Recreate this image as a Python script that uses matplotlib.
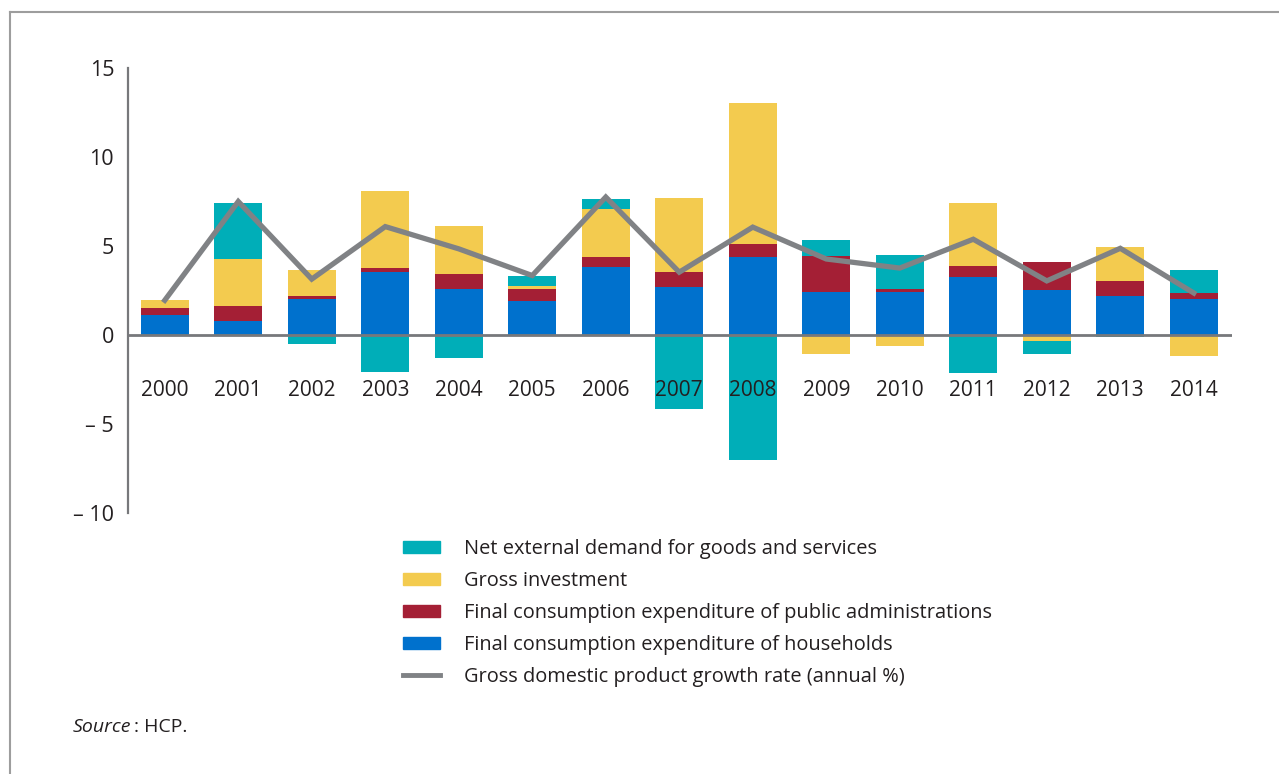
import numpy as np
import matplotlib
matplotlib.use("Agg")
import matplotlib.pyplot as plt
from matplotlib.lines import Line2D
from matplotlib.patches import Patch

plt.rcParams['font.family'] = ['Open Sans', 'DejaVu Sans']

# values (percentage points)
years = ['2000', '2001', '2002', '2003', '2004', '2005', '2006', '2007',
         '2008', '2009', '2010', '2011', '2012', '2013', '2014']
households = [1.14, 0.76, 2.02, 3.53, 2.59, 1.91, 3.80, 2.67, 4.40, 2.40, 2.44, 3.25, 2.50, 2.21, 2.02]
public_admin = [0.37, 0.85, 0.19, 0.23, 0.81, 0.68, 0.60, 0.86, 0.73, 2.05, 0.15, 0.64, 1.60, 0.85, 0.34]
investment = [0.44, 2.64, 1.43, 4.33, 2.73, 0.19, 2.67, 4.18, 7.89, -1.05, -0.59, 3.52, -0.35, 1.87, -1.16]
net_external = [0.0, 3.16, -0.50, -2.08, -1.29, 0.56, 0.59, -4.17, -7.02, 0.89, 1.88, -2.12, -0.70, -0.12, 1.27]
gdp_growth = [1.95, 7.50, 3.14, 6.09, 4.84, 3.34, 7.75, 3.53, 6.06, 4.27, 3.76, 5.38, 3.04, 4.87, 2.36]

labels = ['Final consumption expenditure of households',
          'Final consumption expenditure of public administrations',
          'Gross investment',
          'Net external demand for goods and services']
colors = ['#0071cd', '#a41f35', '#f3cb4f', '#00aeb8']
line_label = 'Gross domestic product growth rate (annual %)'
line_color = '#808285'
text_color = '#231f20'

fig = plt.figure(figsize=(12.79, 7.74), dpi=100)
ax = fig.add_axes([128/1279, 1-513/774, (1232-128)/1279, (513-68)/774])

x = np.arange(len(years))
pos_bottom = np.zeros(len(years))
neg_bottom = np.zeros(len(years))
for series, c in zip([households, public_admin, investment, net_external], colors):
    v = np.array(series)
    bottom = np.where(v >= 0, pos_bottom, neg_bottom)
    ax.bar(x, v, width=0.65, bottom=bottom, color=c, linewidth=0, zorder=1)
    pos_bottom += np.where(v > 0, v, 0)
    neg_bottom += np.where(v < 0, v, 0)

ax.axhline(0, color='#77787b', lw=2, zorder=2)
ax.plot(x, gdp_growth, color=line_color, lw=3.8, zorder=3, solid_joinstyle='miter')

# year labels sit inside the plot, below the zero line
for i, yr in enumerate(years):
    ax.text(i, -3.12, yr, ha='center', va='center', fontsize=15, color=text_color, zorder=4)

ax.set_xlim(-0.5, 14.52)
ax.set_ylim(-10, 15)
ax.set_xticks([])
ax.set_yticks([15, 10, 5, 0, -5, -10])
ax.set_yticklabels(['15', '10', '5', '0', '\u2013 5', '\u2013 10'])
ax.tick_params(axis='y', length=0, pad=10, labelsize=15.5, labelcolor=text_color)
for s in ['top', 'right', 'bottom']:
    ax.spines[s].set_visible(False)
ax.spines['left'].set_color('#77787b')
ax.spines['left'].set_linewidth(1.6)

handles = [Patch(color=colors[3]), Patch(color=colors[2]), Patch(color=colors[1]),
           Patch(color=colors[0]), Line2D([], [], color=line_color, lw=3.5)]
names = [labels[3], labels[2], labels[1], labels[0], line_label]
fig.legend(handles, names, loc='upper left', bbox_to_anchor=(385/1279, 1-521/774),
           frameon=False, fontsize=14.4, handlelength=1.85, handleheight=0.55,
           handletextpad=1.2, labelspacing=0.6, labelcolor=text_color)

fig.text(73/1279, 1-727/774, 'Source', style='italic', fontsize=14, color=text_color, va='center')
fig.text(134/1279, 1-727/774, ': HCP.', fontsize=14, color=text_color, va='center')

# page frame lines
fig.add_artist(Line2D([10/1279, 1], [1-11.5/774, 1-11.5/774], color='#9d9d9d', lw=1.5))
fig.add_artist(Line2D([10/1279, 10/1279], [0, 1-11.5/774], color='#9d9d9d', lw=1.5))

fig.savefig('out.png', dpi=100)
